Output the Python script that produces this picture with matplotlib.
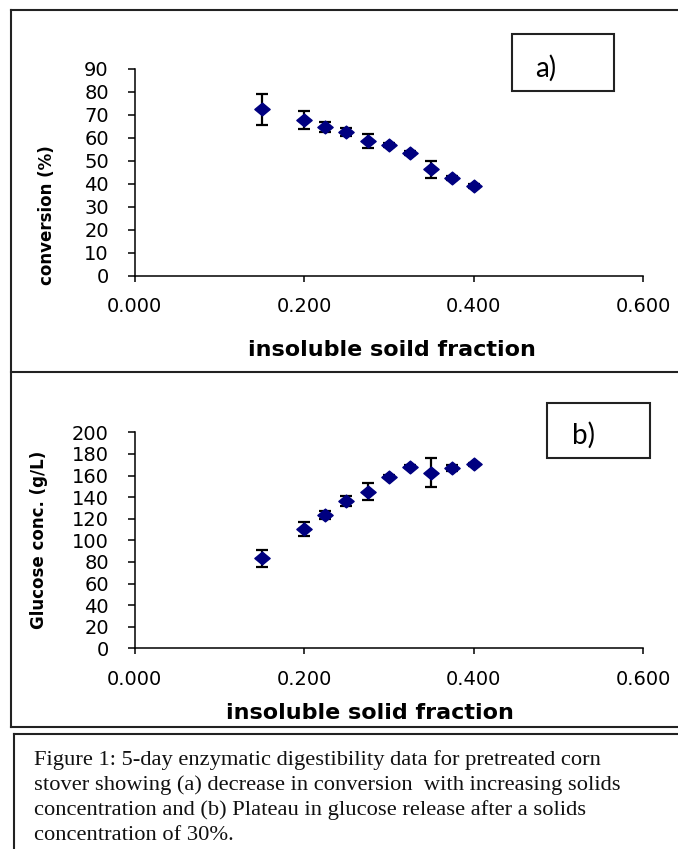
import matplotlib
matplotlib.use("Agg")
import matplotlib.pyplot as plt
from matplotlib.patches import Rectangle
from matplotlib.lines import Line2D
from matplotlib.path import Path

# ---- data ----
solids = [0.15, 0.20, 0.225, 0.25, 0.275, 0.30, 0.325, 0.35, 0.375, 0.40]
conversion = [72.3, 67.6, 64.8, 62.4, 58.6, 56.8, 53.2, 46.2, 42.3, 38.9]
conversion_err = [6.7, 3.9, 2.2, 1.9, 3.1, 0.8, 0.8, 3.7, 0.9, 0.8]
glucose = [83.3, 110.7, 123.4, 136.4, 145.0, 158.9, 168.2, 162.6, 167.0, 170.3]
glucose_err = [8.0, 6.5, 4.0, 4.3, 8.0, 1.5, 1.5, 13.4, 3.0, 1.2]
x_ticks = [0.0, 0.2, 0.4, 0.6]
x_tick_labels = ["0.000", "0.200", "0.400", "0.600"]
yticks_a = list(range(0, 91, 10))
yticks_b = list(range(0, 201, 20))
caption_lines = [
    "Figure 1: 5-day enzymatic digestibility data for pretreated corn",
    "stover showing (a) decrease in conversion  with increasing solids",
    "concentration and (b) Plateau in glucose release after a solids",
    "concentration of 30%.",
]

W, H = 678, 849
fig = plt.figure(figsize=(W / 100, H / 100), dpi=100)
fig.patch.set_facecolor("white")


def fx(px):
    return px / W


def fy(py):
    return 1 - py / H


navy = "#000080"
diamond = Path([(-0.6, 0), (0, 0.5), (0.6, 0), (0, -0.5), (-0.6, 0)],
               [Path.MOVETO, Path.LINETO, Path.LINETO, Path.LINETO, Path.CLOSEPOLY])


def make_axes(top_px, bottom_px, yvals, yerr, ylim, yticks):
    left, right = 134.5, 643.0
    ax = fig.add_axes([fx(left), fy(bottom_px), (right - left) / W, (bottom_px - top_px) / H])
    ax.set_facecolor("none")
    ax.errorbar(solids, yvals, yerr=yerr, fmt="none", ecolor="black",
                elinewidth=1.6, capsize=4.3, capthick=1.6, zorder=2)
    ax.plot(solids, yvals, linestyle="none", marker=diamond, markersize=11,
            color=navy, markeredgecolor=navy, zorder=3, clip_on=False)
    ax.set_xlim(0, 0.6)
    ax.set_ylim(*ylim)
    ax.set_xticks(x_ticks)
    ax.set_xticklabels(x_tick_labels)
    ax.set_yticks(yticks)
    ax.set_yticklabels([str(v) for v in yticks])
    for s in ["top", "right"]:
        ax.spines[s].set_visible(False)
    for s in ["left", "bottom"]:
        ax.spines[s].set_linewidth(1.1)
        ax.spines[s].set_color("black")
    ax.tick_params(axis="y", direction="out", length=5.0, width=1.1, pad=13.5)
    ax.tick_params(axis="x", direction="out", length=4, width=1.1, pad=11.5)
    for lbl in ax.get_xticklabels() + ax.get_yticklabels():
        lbl.set_fontfamily("DejaVu Sans")
        lbl.set_fontsize(14)
    return ax


ax_a = make_axes(68.7, 275.5, conversion, conversion_err, (0, 90), yticks_a)
ax_b = make_axes(432.3, 648.3, glucose, glucose_err, (0, 200), yticks_b)

# axis titles
fig.text(fx(392), fy(356.5), "insoluble soild fraction", ha="center", va="baseline",
         fontsize=16, fontweight="bold", family="DejaVu Sans")
fig.text(fx(370), fy(719), "insoluble solid fraction", ha="center", va="baseline",
         fontsize=16, fontweight="bold", family="DejaVu Sans")
fig.text(fx(46.5), fy(215), "conversion (%)", ha="center", va="center", rotation=90,
         fontsize=12, fontweight="bold", family="DejaVu Sans")
fig.text(fx(39), fy(540), "Glucose conc. (g/L)", ha="center", va="center", rotation=90,
         fontsize=12, fontweight="bold", family="DejaVu Sans")

# panel label boxes
for (x0, y0, x1, y1, txt, cx, cy) in [(512, 34, 614, 91, "a)", 546, 68),
                                      (547, 403, 650, 458, "b)", 583, 435)]:
    fig.patches.append(Rectangle((fx(x0), fy(y1)), (x1 - x0) / W, (y1 - y0) / H,
                                 transform=fig.transFigure, fill=False,
                                 edgecolor="#222222", linewidth=1.5))
    fig.text(fx(cx), fy(cy), txt, ha="center", va="center", fontsize=20, family="Lato")

# outer frames
frame_kw = dict(transform=fig.transFigure, color="#222222", linewidth=1.5)
fig.lines.append(Line2D([fx(11), fx(680)], [fy(9.5), fy(9.5)], **frame_kw))
fig.lines.append(Line2D([fx(11), fx(11)], [fy(9.5), fy(727)], **frame_kw))
fig.lines.append(Line2D([fx(11), fx(680)], [fy(371.5), fy(371.5)], **frame_kw))
fig.lines.append(Line2D([fx(11), fx(680)], [fy(727), fy(727)], **frame_kw))
fig.lines.append(Line2D([fx(14), fx(680)], [fy(734), fy(734)], **frame_kw))
fig.lines.append(Line2D([fx(14), fx(14)], [fy(734), fy(851)], **frame_kw))

# caption
for i, line in enumerate(caption_lines):
    fig.text(fx(34), fy(765 + 25 * i), line, ha="left", va="baseline",
             fontsize=16.2, family="Liberation Serif", color="#111111")

fig.savefig("out.png", dpi=100)
